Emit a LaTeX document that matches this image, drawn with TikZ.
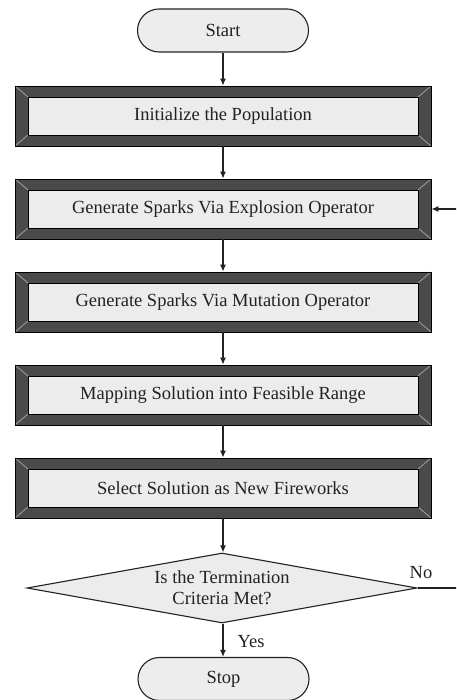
\documentclass[tikz,border=0pt]{standalone}
\usepackage{fontspec}
\setmainfont{Liberation Serif}
\usetikzlibrary{arrows.meta,shapes.geometric}

\definecolor{termfill}{HTML}{EDEDED}
\definecolor{framefill}{HTML}{4A4A4A}
\definecolor{innerfill}{HTML}{ECECEC}
\definecolor{bevelline}{HTML}{9A9A9A}
\definecolor{inkcol}{HTML}{222222}

\tikzset{
  base/.style={font=\fontsize{18.5}{21}\selectfont, text=inkcol, inner sep=0pt},
  terminal/.style={base, draw=inkcol, line width=1.1pt, fill=termfill,
    minimum width=171pt, minimum height=43pt, rounded corners=21.5pt},
  bevelbox/.style={base, draw=black, line width=0.8pt, fill=framefill,
    minimum width=416pt, minimum height=60pt,
    path picture={
      \coordinate (nw) at (path picture bounding box.north west);
      \coordinate (se) at (path picture bounding box.south east);
      \coordinate (ne) at (path picture bounding box.north east);
      \coordinate (sw) at (path picture bounding box.south west);
      \draw[bevelline, line width=0.9pt] (nw) -- ++(13,-11) (ne) -- ++(-13,-11)
        (sw) -- ++(13,11) (se) -- ++(-13,11);
      \draw[black, line width=0.8pt, fill=innerfill]
        ([shift={(13,-11)}]nw) rectangle ([shift={(-13,11)}]se);
    }},
  decision/.style={base, shape=diamond, draw=inkcol, line width=1.1pt, fill=innerfill,
    minimum width=390pt, minimum height=70pt, aspect=5.57, align=center},
  flow/.style={draw=inkcol, line width=1.2pt, -{Latex[length=7pt,width=6pt]}},
  plainline/.style={draw=inkcol, line width=1.2pt},
  lbl/.style={base}
}

\begin{document}
\begin{tikzpicture}[x=1pt,y=1pt]
  \useasboundingbox (0,0) rectangle (456,700);
  \clip (0,0) rectangle (456,700);
  \fill[white] (0,0) rectangle (456,700);

  % terminals
  \node[terminal] (start) at (223,669.5) {Start};
  \node[terminal] (stop)  at (223.5,21) {Stop};

  % process steps
  \node[bevelbox] (init) at (223,584) {Initialize the Population};
  \node[bevelbox] (expl) at (223,491) {Generate Sparks Via Explosion Operator};
  \node[bevelbox] (mut)  at (223,398) {Generate Sparks Via Mutation Operator};
  \node[bevelbox] (map)  at (223,305) {Mapping Solution into Feasible Range};
  \node[bevelbox] (sel)  at (223,212) {Select Solution as New Fireworks};

  % termination test
  \node[decision] (dec) at (222,112) {Is the Termination\\Criteria Met?};

  % main flow
  \draw[flow] (start.south -| init.north) -- (init.north);
  \draw[flow] (init.south) -- (expl.north);
  \draw[flow] (expl.south) -- (mut.north);
  \draw[flow] (mut.south) -- (map.north);
  \draw[flow] (map.south) -- (sel.north);
  \draw[flow] (sel.south) -- (sel.south |- dec.north);
  \draw[flow] (sel.south |- dec.south) -- (sel.south |- stop.north);

  % loop back when not finished
  \coordinate (loopx) at (458,0);
  \draw[plainline] (dec.east) -- (dec.east -| loopx) -- (expl.east -| loopx);
  \draw[flow] (expl.east -| loopx) -- (expl.east);

  % branch labels
  \node[lbl] at (421,127) {No};
  \node[lbl] at (251,58) {Yes};
\end{tikzpicture}
\end{document}
